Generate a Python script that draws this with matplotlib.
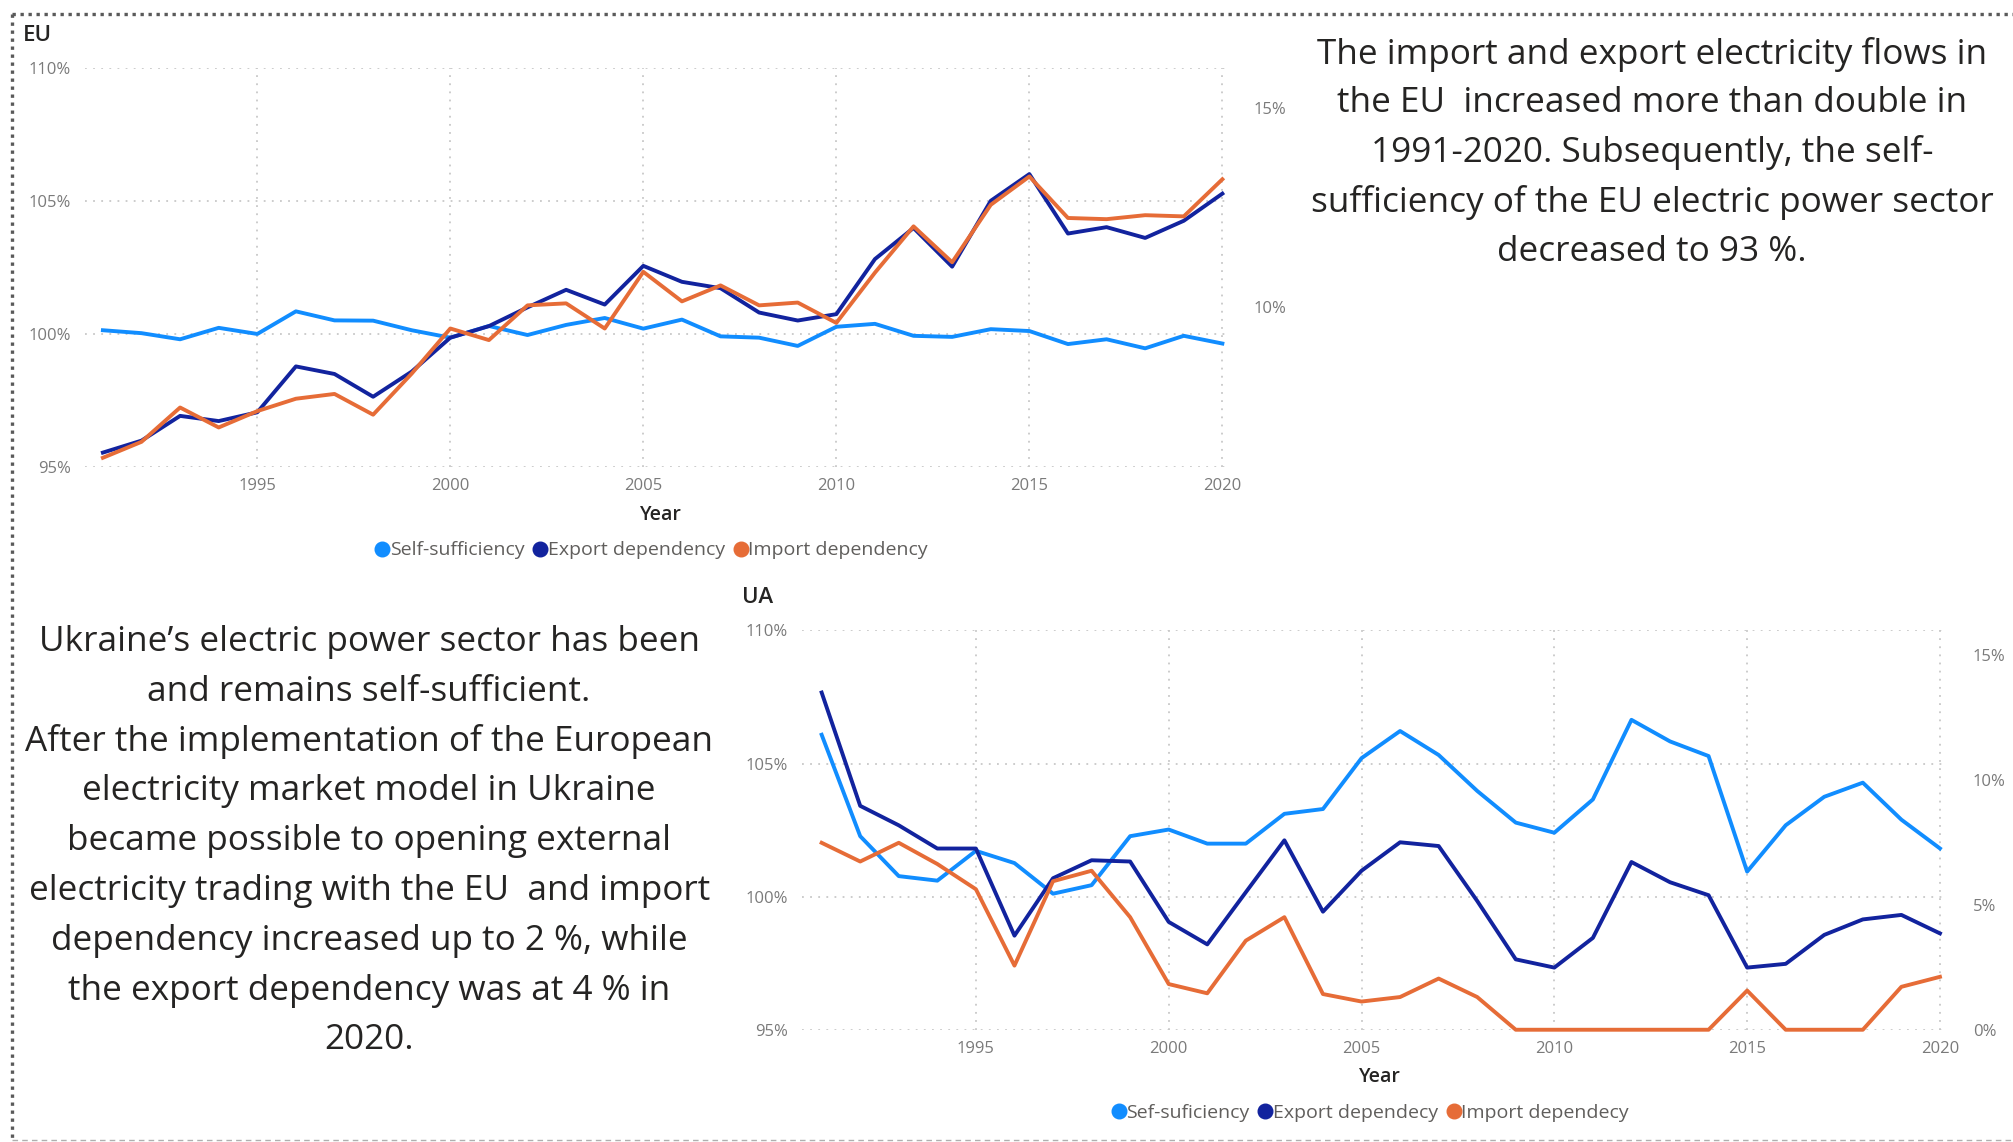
import matplotlib
matplotlib.use("Agg")
import matplotlib.pyplot as plt
from matplotlib.lines import Line2D
from matplotlib.ticker import FuncFormatter

plt.rcParams["font.family"] = ["Open Sans", "DejaVu Sans"]

years = list(range(1991, 2021))

# EU: self-sufficiency on the left axis, dependencies on the right axis (%)
eu_self = [100.14, 100.03, 99.80, 100.23, 100.00, 100.85, 100.51, 100.50, 100.14, 99.86,
           100.30, 99.96, 100.34, 100.60, 100.20, 100.54, 99.91, 99.86, 99.55, 100.27,
           100.38, 99.93, 99.89, 100.18, 100.11, 99.62, 99.80, 99.46, 99.93, 99.64]
eu_export = [6.36, 6.66, 7.28, 7.15, 7.37, 8.52, 8.33, 7.76, 8.39, 9.24,
             9.53, 10.00, 10.44, 10.07, 11.04, 10.64, 10.48, 9.87, 9.67, 9.83,
             11.21, 11.99, 11.02, 12.67, 13.34, 11.85, 12.01, 11.74, 12.17, 12.85]
eu_import = [6.23, 6.63, 7.49, 6.99, 7.40, 7.71, 7.83, 7.31, 8.34, 9.47,
             9.18, 10.05, 10.10, 9.47, 10.89, 10.15, 10.55, 10.05, 10.12, 9.61,
             10.87, 12.03, 11.13, 12.57, 13.28, 12.24, 12.21, 12.31, 12.28, 13.21]

# UA
ua_self = [106.08, 102.27, 100.77, 100.60, 101.72, 101.26, 100.11, 100.43, 102.27, 102.52,
           101.99, 101.99, 103.11, 103.29, 105.20, 106.22, 105.32, 103.97, 102.78, 102.40,
           103.65, 106.64, 105.83, 105.28, 100.94, 102.68, 103.75, 104.28, 102.89, 101.81]
ua_export = [13.51, 8.97, 8.19, 7.26, 7.26, 3.77, 6.07, 6.79, 6.74, 4.32,
             3.42, 5.51, 7.59, 4.73, 6.37, 7.51, 7.36, 5.16, 2.82, 2.49,
             3.68, 6.72, 5.91, 5.39, 2.49, 2.64, 3.80, 4.42, 4.60, 3.86]
ua_import = [7.49, 6.74, 7.49, 6.64, 5.63, 2.57, 5.95, 6.37, 4.51, 1.83,
             1.46, 3.57, 4.51, 1.43, 1.13, 1.31, 2.05, 1.31, 0.0, 0.0,
             0.0, 0.0, 0.0, 0.0, 1.57, 0.0, 0.0, 0.0, 1.72, 2.12]

eu_labels = ["Self-sufficiency", "Export dependency", "Import dependency"]
ua_labels = ["Sef-suficiency", "Export dependecy", "Import dependecy"]

left_ticks = [95, 100, 105, 110]
year_ticks = [1995, 2000, 2005, 2010, 2015, 2020]

eu_text = [
    "The import and export electricity flows in",
    "the EU  increased more than double in",
    "1991-2020. Subsequently, the self-",
    "sufficiency of the EU electric power sector",
    "decreased to 93 %.",
]
ua_text = [
    "Ukraine\u2019s electric power sector has been",
    "and remains self-sufficient.",
    "After the implementation of the European",
    "electricity market model in Ukraine",
    "became possible to opening external",
    "electricity trading with the EU  and import",
    "dependency increased up to 2 %, while",
    "the export dependency was at 4 % in",
    "2020.",
]

C_SELF = "#118DFF"
C_EXP = "#12239E"
C_IMP = "#E66C37"
TXT = "#252423"
TICK = "#7a7a7a"
GRID = "#c8c8c8"

W, H = 2013, 1142
fig = plt.figure(figsize=(W / 100, H / 100), dpi=100)
fig.patch.set_facecolor("white")

pct = FuncFormatter(lambda v, p: f"{v:.0f}%")


def panel(rect, xlim, rlim, rticks, self_v, exp_v, imp_v, lpad, rpad):
    ax = fig.add_axes(rect)
    ax.set_xlim(*xlim)
    ax.set_ylim(95, 110)
    ax.set_yticks(left_ticks)
    ax.set_xticks(year_ticks)
    ax.yaxis.set_major_formatter(pct)
    for s in ax.spines.values():
        s.set_visible(False)
    ax.grid(True, color=GRID, linestyle=(0, (1, 3.5)), linewidth=1.3)
    ax.tick_params(length=0, labelsize=12, labelcolor=TICK)
    ax.tick_params(axis="y", pad=lpad)
    ax.tick_params(axis="x", pad=8)
    ax2 = ax.twinx()
    ax2.set_ylim(*rlim)
    ax2.set_yticks(rticks)
    ax2.yaxis.set_major_formatter(pct)
    for s in ax2.spines.values():
        s.set_visible(False)
    ax2.tick_params(length=0, labelsize=12, labelcolor=TICK, pad=rpad)
    ax.plot(years, self_v, color=C_SELF, lw=2.8, solid_joinstyle="round", clip_on=False, zorder=3)
    ax2.plot(years, exp_v, color=C_EXP, lw=2.8, solid_joinstyle="round", clip_on=False, zorder=3)
    ax2.plot(years, imp_v, color=C_IMP, lw=2.8, solid_joinstyle="round", clip_on=False, zorder=4)
    return ax, ax2


ax_eu, ax_eu2 = panel([0.0421, 0.5911, 0.5684, 0.3494], (1990.53, 2020.17), (6, 16), [10, 15],
                      eu_self, eu_export, eu_import, 10, 18)
ax_ua, ax_ua2 = panel([0.3984, 0.0983, 0.5678, 0.3497], (1990.49, 2020.13), (0, 16), [0, 5, 10, 15],
                      ua_self, ua_export, ua_import, 10, 20)


def legend(labels, x, y):
    handles = [Line2D([], [], marker="o", linestyle="none", markersize=10.5,
                      markerfacecolor=c, markeredgecolor=c)
               for c in (C_SELF, C_EXP, C_IMP)]
    fig.legend(handles, labels, loc="center", bbox_to_anchor=(x, y), ncol=3, frameon=False,
               fontsize=14, handlelength=0.6, handletextpad=0.1, columnspacing=0.5,
               labelcolor="#605E5C", borderpad=0)


legend(eu_labels, 0.324, 0.5180)
legend(ua_labels, 0.681, 0.0253)

fig.text(0.3284, 0.5490, "Year", ha="center", va="center", fontsize=14, color=TXT, weight="semibold")
fig.text(0.6856, 0.0565, "Year", ha="center", va="center", fontsize=14, color=TXT, weight="semibold")
fig.text(0.0114, 0.969, "EU", ha="left", va="center", fontsize=16, color=TXT, weight="semibold")
fig.text(0.3686, 0.477, "UA", ha="left", va="center", fontsize=16, color=TXT, weight="semibold")

for i, line in enumerate(eu_text):
    y_px = 54 + i * 49.5
    fig.text(0.8207, 1 - y_px / H, line, ha="center", va="center", fontsize=25.3, color=TXT)

for i, line in enumerate(ua_text):
    y_px = 642 + i * 49.8
    fig.text(0.1834, 1 - y_px / H, line, ha="center", va="center", fontsize=25.3, color=TXT)

# panel frame: dotted top and left edges, light dashed bottom edge
fig.add_artist(Line2D([12 / W, 1.0], [1 - 14 / H, 1 - 14 / H], transform=fig.transFigure,
                      color="#5a5a5a", lw=2.4, linestyle=(0, (1, 1.4)), solid_capstyle="butt"))
fig.add_artist(Line2D([12 / W, 12 / W], [1 - 14 / H, 1 - 1140 / H], transform=fig.transFigure,
                      color="#5a5a5a", lw=2.4, linestyle=(0, (1, 1.4))))
fig.add_artist(Line2D([12 / W, 1.0], [1 - 1140 / H, 1 - 1140 / H], transform=fig.transFigure,
                      color="#b0b0b0", lw=1.0, linestyle=(0, (4, 3))))

fig.savefig("out.png", dpi=100, facecolor="white")
